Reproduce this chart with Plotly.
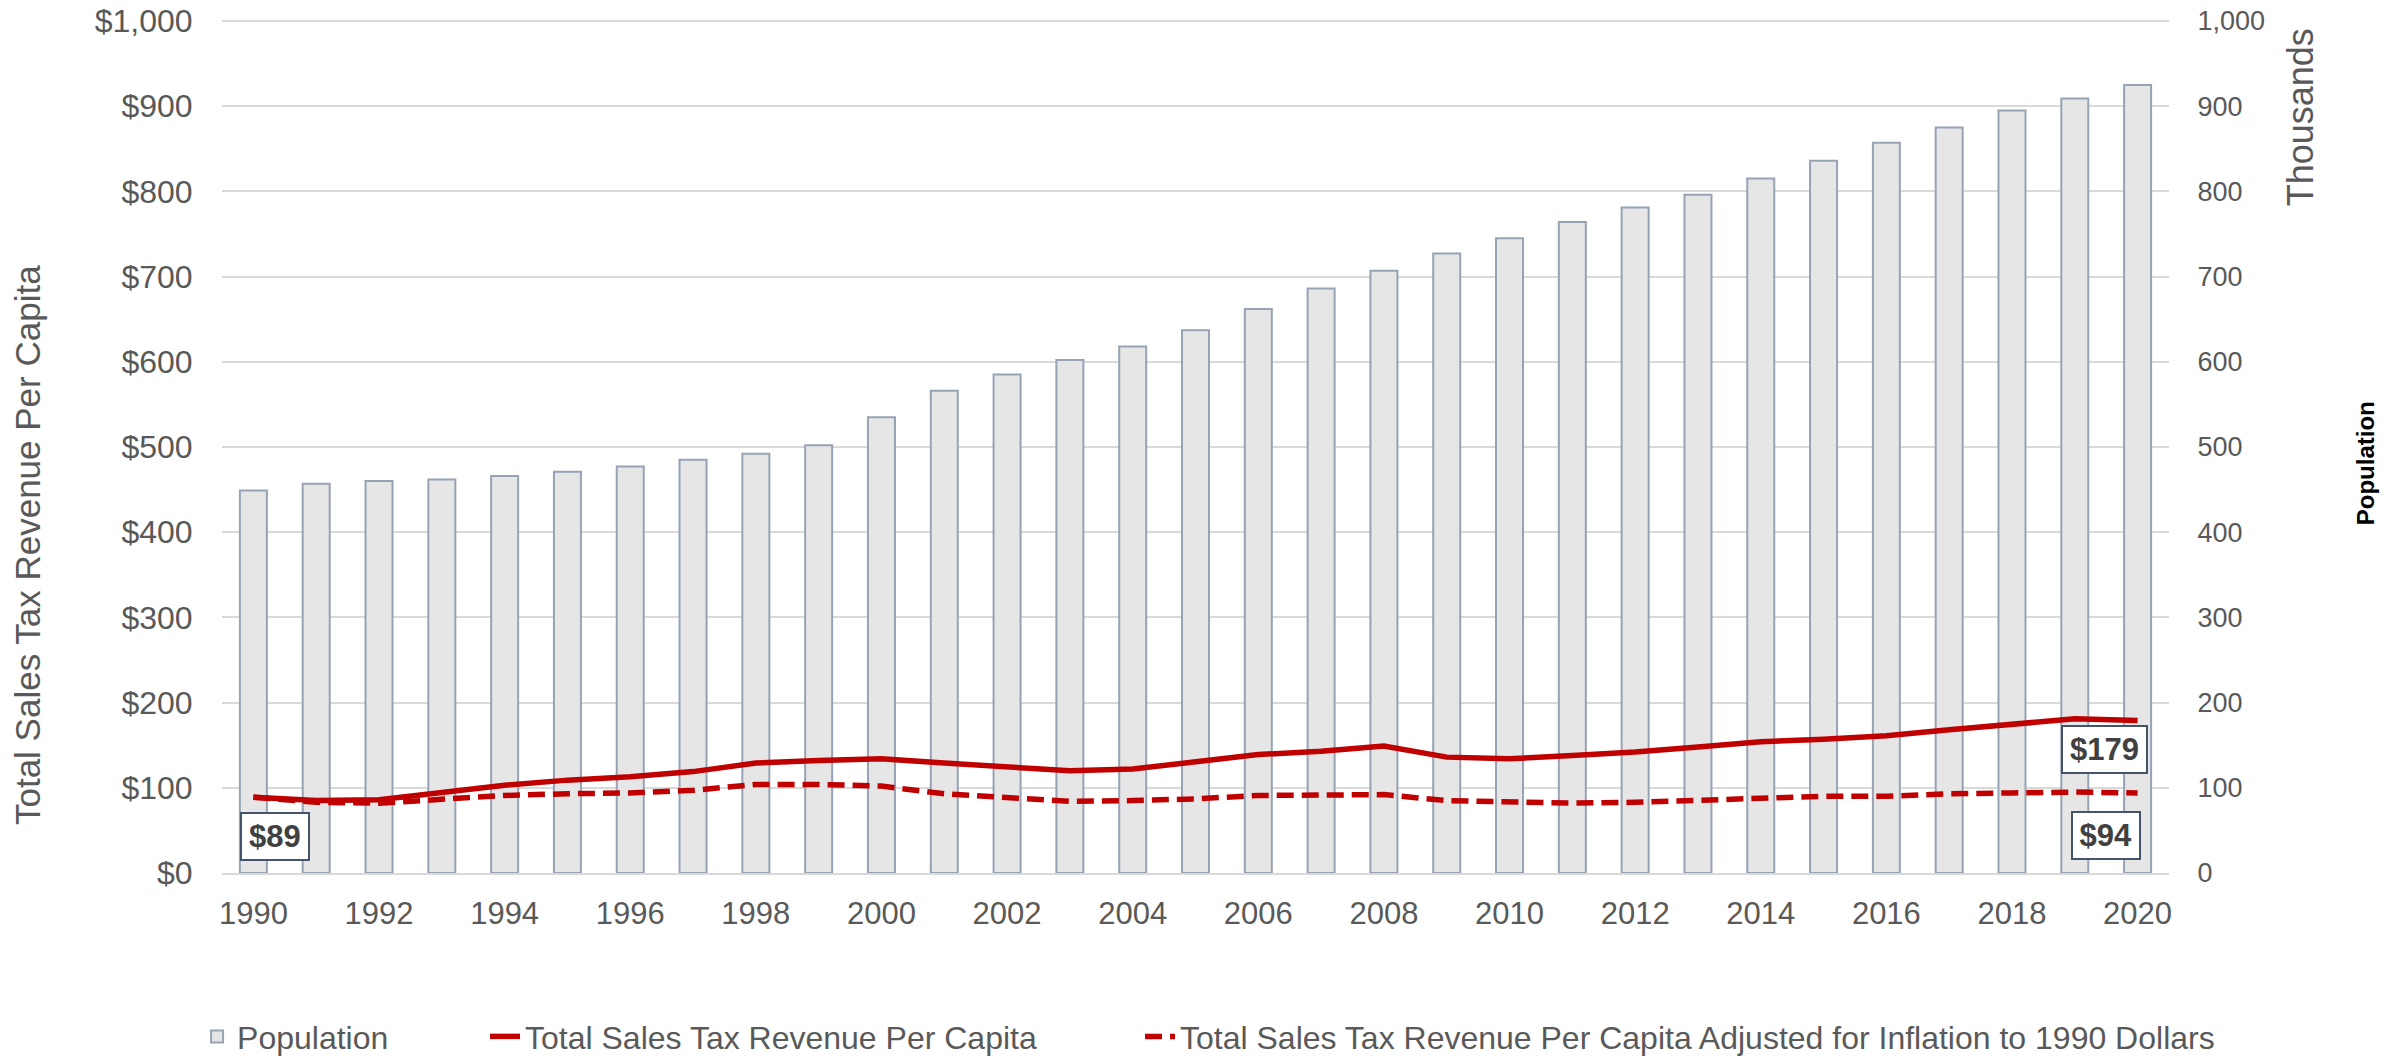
import plotly.graph_objects as go

years = list(range(1990, 2021))

# population, thousands
population = [449, 457, 460, 462, 466, 471, 477, 485, 492, 502,
              535, 566, 585, 602, 618, 637, 662, 686, 707, 727,
              745, 764, 781, 796, 815, 836, 857, 875, 895, 909, 925]

# sales tax revenue per capita, dollars
revenue_per_capita = [89, 85, 86, 95, 103, 109, 113, 119, 129, 132,
                      134, 129, 124, 120, 122, 130, 139, 143, 149, 136,
                      134, 138, 142, 148, 154, 157, 161, 168, 175, 181, 179]

# adjusted for inflation to 1990 dollars
revenue_adjusted = [89, 83, 82, 87, 91, 93, 94, 97, 104, 104,
                    102, 93, 89, 84, 85, 87, 91, 92, 92, 85,
                    83, 82, 83, 85, 87, 90, 90, 93, 94, 95, 94]

TEXT = "#595959"
RED = "#c00000"
GRID = "#d9d9d9"
FONT = "Liberation Sans, Arial, sans-serif"

fig = go.Figure()

fig.add_trace(go.Bar(
    x=years, y=population, name="Population", width=0.43,
    marker=dict(color="#e6e6e6", line=dict(color="#97a3b5", width=2)),
    yaxis="y", legend="legend",
))
fig.add_trace(go.Scatter(
    x=years, y=revenue_per_capita, name="Total Sales Tax Revenue Per Capita",
    mode="lines", line=dict(color=RED, width=5.5), yaxis="y2", legend="legend2",
))
fig.add_trace(go.Scatter(
    x=years, y=revenue_adjusted,
    name="Total Sales Tax Revenue Per Capita Adjusted for Inflation to 1990 Dollars",
    mode="lines", line=dict(color=RED, width=5.5, dash="17px,8px"), yaxis="y2",
    legend="legend3",
))

# end-point value labels
labels = [
    (years[0], revenue_per_capita[0], 43, 22),
    (years[-1], revenue_per_capita[-1], 145, -33),
    (years[-1], revenue_adjusted[-1], 44, -32),
]
annotations = []
for yr, val, ypos, shift in labels:
    txt = f"${val}"
    annotations.append(dict(
        x=yr, y=ypos, xref="x", yref="y2", xshift=shift,
        xanchor="center", yanchor="middle",
        text=f"<b>{txt}</b>", showarrow=False, width=len(txt) * 17.2 + 4,
        font=dict(family=FONT, size=31, color="#404040"),
        bgcolor="white", bordercolor="#44546a", borderwidth=2, borderpad=5,
    ))

annotations += [
    dict(x=-0.0996, y=0.385, xref="paper", yref="paper", textangle=-90,
         xanchor="center", yanchor="middle",
         text="Total Sales Tax Revenue Per Capita", showarrow=False,
         font=dict(family=FONT, size=35, color=TEXT)),
    dict(x=1.0673, y=0.887, xref="paper", yref="paper", textangle=-90,
         xanchor="center", yanchor="middle",
         text="Thousands", showarrow=False,
         font=dict(family=FONT, size=36, color=TEXT)),
    dict(x=1.1007, y=0.481, xref="paper", yref="paper", textangle=-90,
         xanchor="center", yanchor="middle",
         text="<b>Population</b>", showarrow=False,
         font=dict(family=FONT, size=24, color="black")),
]

legend_style = dict(orientation="h", xanchor="left", y=-0.192, yanchor="middle",
                    font=dict(size=32, color=TEXT), bgcolor="rgba(0,0,0,0)")

fig.update_layout(
    width=2402, height=1058,
    margin=dict(l=222, r=233, t=21, b=185, autoexpand=False),
    paper_bgcolor="white", plot_bgcolor="white",
    font=dict(family=FONT, color=TEXT),
    showlegend=True,
    legend=dict(x=-0.0128, **legend_style),
    legend2=dict(x=0.1351, **legend_style),
    legend3=dict(x=0.4715, **legend_style),
    xaxis=dict(range=[1989.5, 2020.5], tick0=1990, dtick=2, showgrid=False,
               showline=True, linecolor=GRID, linewidth=2,
               ticks="outside", ticklen=12, tickcolor="rgba(0,0,0,0)",
               tickfont=dict(size=31, color=TEXT)),
    yaxis=dict(side="right", range=[0, 1000], dtick=100, tickformat=",",
               showgrid=True, gridcolor=GRID, gridwidth=2, zeroline=False,
               ticks="outside", ticklen=22, tickcolor="rgba(0,0,0,0)",
               ticklabeloverflow="allow",
               tickfont=dict(size=27, color=TEXT)),
    yaxis2=dict(side="left", overlaying="y", range=[0, 1000], dtick=100,
                tickformat=",", tickprefix="$", showgrid=False, zeroline=False,
                ticks="outside", ticklen=22, tickcolor="rgba(0,0,0,0)",
                ticklabeloverflow="allow",
                tickfont=dict(size=32, color=TEXT)),
    annotations=annotations,
)

# plotly drops the gridline sitting on the top edge, draw it back
fig.add_shape(type="line", xref="paper", yref="paper", x0=0, x1=1, y0=1, y1=1,
              line=dict(color=GRID, width=2), layer="below")

# drop the browser's default 8px body margin so the figure fills the window
fig.write_html("out.html", config={"displayModeBar": False},
               post_script="document.body.style.margin = '0';")
